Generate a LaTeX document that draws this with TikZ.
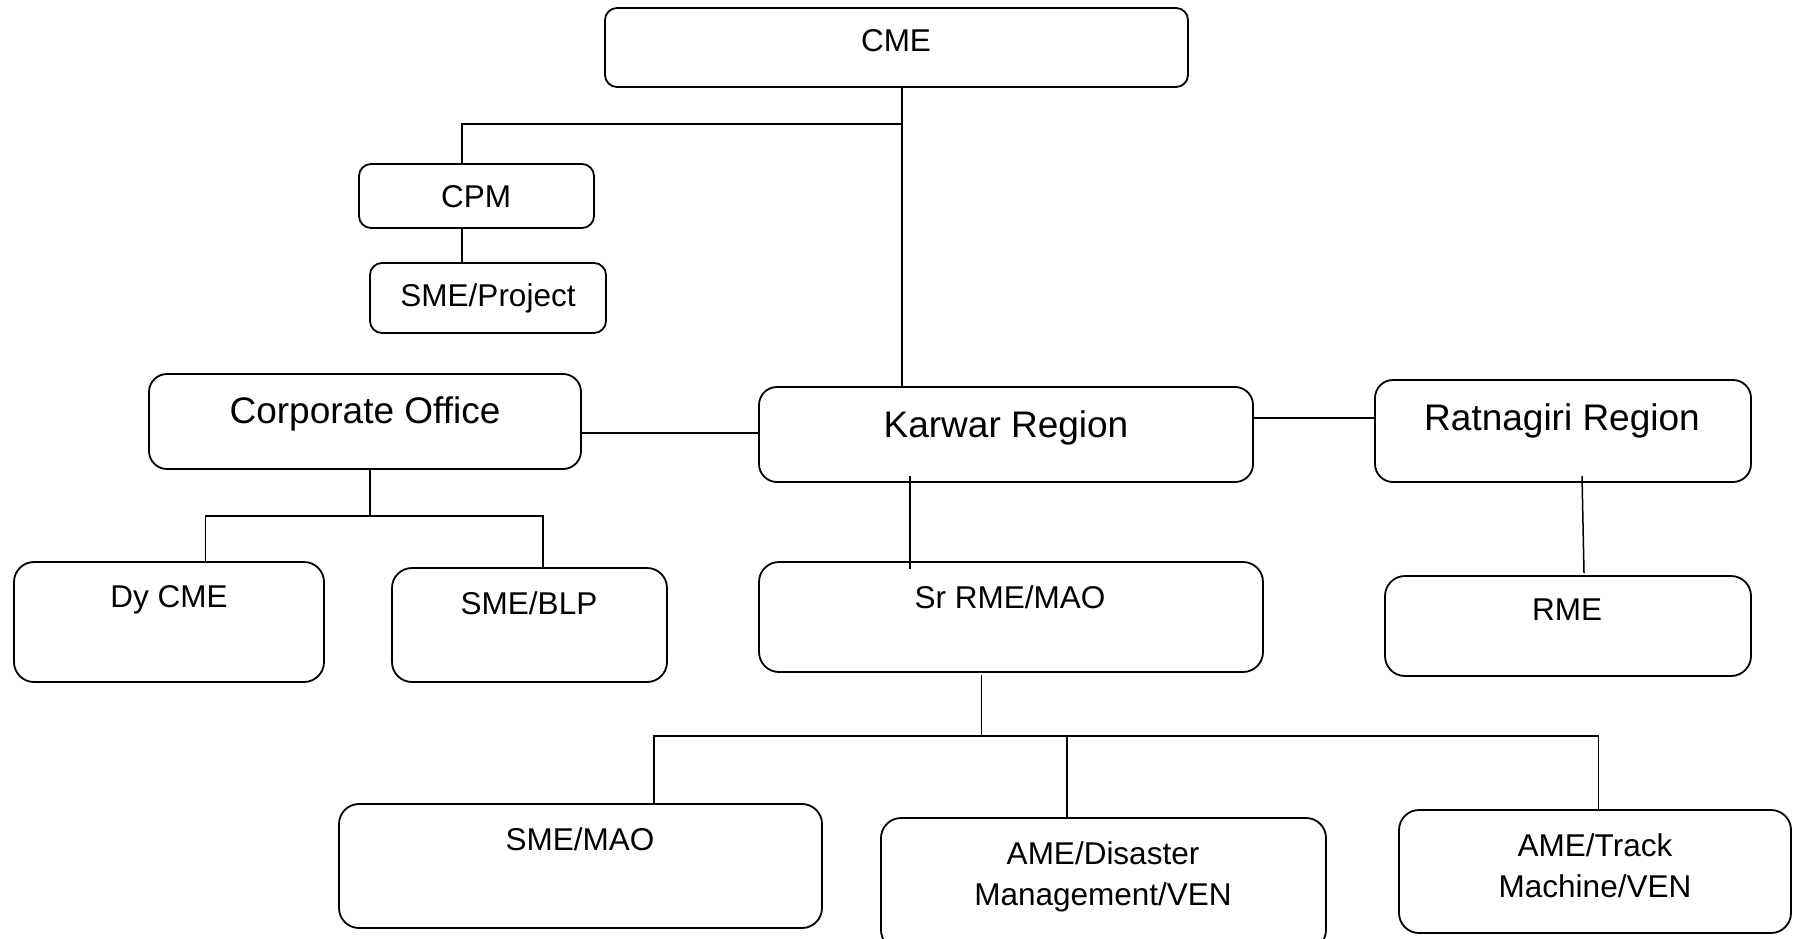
\documentclass[tikz,border=0pt]{standalone}
\usepackage{fontspec}
\setmainfont{Liberation Sans}
\begin{document}
\begin{tikzpicture}[x=1pt,y=-1pt,
  box/.style={draw=black, line width=1.8pt, rounded corners=#1, inner sep=0pt, outer sep=0pt},
  box/.default=14pt,
  conn/.style={draw=black, line width=1.5pt},
  small/.style={font=\fontsize{31.5}{40.5}\selectfont, inner sep=0pt, anchor=base, align=center},
  big/.style={font=\fontsize{37}{44}\selectfont, inner sep=0pt, anchor=base},
]
\useasboundingbox[fill=white] (0,0) rectangle (1798,939);
% boxes
\node[box=12pt, minimum width=583pt, minimum height=79pt] (cme) at (896.5,47.5) {};
\node[box=12pt, minimum width=235pt, minimum height=64pt] (cpm) at (476.5,196) {};
\node[box=12pt, minimum width=236pt, minimum height=70pt] (smeproj) at (488,298) {};
\node[box=18pt, minimum width=432pt, minimum height=95pt] (corp) at (365,421.5) {};
\node[box=18pt, minimum width=494pt, minimum height=95pt] (karwar) at (1006,434.5) {};
\node[box=18pt, minimum width=376pt, minimum height=102pt] (ratna) at (1563,431) {};
\node[box=20pt, minimum width=310pt, minimum height=120pt] (dycme) at (169,622) {};
\node[box=20pt, minimum width=275pt, minimum height=114pt] (smeblp) at (529.5,625) {};
\node[box=20pt, minimum width=504pt, minimum height=110pt] (srrme) at (1011,617) {};
\node[box=20pt, minimum width=366pt, minimum height=100pt] (rme) at (1568,626) {};
\node[box=20pt, minimum width=483pt, minimum height=124pt] (smemao) at (580.5,866) {};
\node[box=20pt, minimum width=445pt, minimum height=132pt] (amedis) at (1103.5,884) {};
\node[box=20pt, minimum width=392pt, minimum height=123pt] (ametrack) at (1595,871.5) {};
% texts
\node[small] (cme-t) at (896,52) {CME};
\node[small] (cpm-t) at (476,207) {CPM};
\node[small] (smeproj-t) at (488,306) {SME/Project};
\node[big] (corp-t) at (365,423) {Corporate Office};
\node[big] (karwar-t) at (1006,437) {Karwar Region};
\node[big] (ratna-t) at (1562,430) {Ratnagiri Region};
\node[small] (dycme-t) at (169,607) {Dy CME};
\node[small] (smeblp-t) at (529,614) {SME/BLP};
\node[small] (srrme-t) at (1010,608) {Sr RME/MAO};
\node[small] (rme-t) at (1567,620) {RME};
\node[small] (smemao-t) at (580,850) {SME/MAO};
\node[small] (amedis-t) at (1103,905) {AME/Disaster\\Management/VEN};
\node[small] (ametrack-t) at (1595,897) {AME/Track\\Machine/VEN};
% junctions
\coordinate (j1) at (902,124);
\coordinate (j2) at (370,516);
\coordinate (j3) at (981.5,736);
% connectors
\draw[conn] ([xshift=5.5pt]cme.south) -- ([xshift=-104pt]karwar.north);
\draw[conn] (j1) -| ([xshift=-14.5pt]cpm.north);
\draw[conn] ([xshift=-14.5pt]cpm.south) -- ([xshift=-26pt]smeproj.north);
\draw[conn] ([yshift=-11.5pt]corp.east) -- ([yshift=1.5pt]karwar.west);
\draw[conn] ([yshift=16.5pt]karwar.east) -- ([yshift=13pt]ratna.west);
\draw[conn] ([xshift=5pt]corp.south) -- (j2);
\draw[conn] ([xshift=36.5pt]dycme.north) |- (j2) -| ([xshift=13.5pt]smeblp.north);
\draw[conn] ([xshift=-96pt,yshift=6pt]karwar.south) -- ([xshift=-101pt,yshift=-7pt]srrme.north);
\draw[conn] ([xshift=19pt,yshift=6pt]ratna.south) -- ([xshift=16pt,yshift=3pt]rme.north);
\draw[conn] ([xshift=-29.5pt,yshift=-3pt]srrme.south) -- (j3);
\draw[conn] ([xshift=73.5pt]smemao.north) |- (j3) -| ([xshift=3.5pt]ametrack.north);
\draw[conn] ([xshift=-36.5pt]amedis.north) |- (j3);
\end{tikzpicture}
\end{document}
